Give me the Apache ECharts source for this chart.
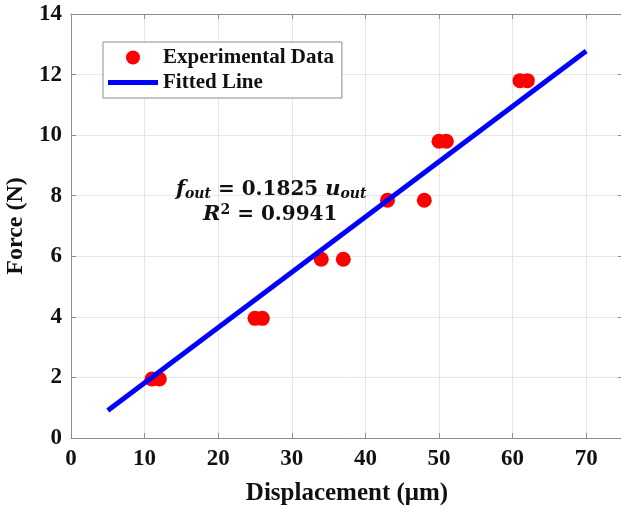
<!DOCTYPE html>
<html>
<head>
<meta charset="utf-8">
<script src="https://cdn.jsdelivr.net/npm/echarts@6/dist/echarts.min.js"></script>
<style>
  html, body { margin: 0; padding: 0; background: #fff; }
  #chart { width: 621px; height: 509px; }
</style>
</head>
<body>
<div id="chart"></div>
<script>
// measured points
const dispData = [11, 12, 25, 26, 34, 37, 43, 48, 50, 51, 61, 62]
const forceData = [1.95, 1.95, 3.95, 3.95, 5.9, 5.9, 7.85, 7.85, 9.8, 9.8, 11.8, 11.8]

// fitted line end points (f = 0.1825 u)
const fitX = [5, 70]
const fitY = [0.91, 12.78]

const xTicks = [0, 10, 20, 30, 40, 50, 60, 70]
const yTicks = [0, 2, 4, 6, 8, 10, 12, 14]

const font = 'Liberation Serif'
const axisGray = '#8c8c8c'

const scatterPts = dispData.map((x, i) => [x, forceData[i]])
const fitPts = fitX.map((x, i) => [x, fitY[i]])

let myChart = echarts.init(document.getElementById('chart'))

const baseX = {
  type: 'value', min: 0, max: 75, interval: 10,
  axisLine: { show: true, onZero: false, lineStyle: { color: axisGray, width: 1 } },
  axisTick: { show: true, inside: true, length: 5, lineStyle: { color: axisGray } },
  splitLine: { show: false }
}
const baseY = {
  type: 'value', min: 0, max: 14, interval: 2,
  axisLine: { show: true, onZero: false, lineStyle: { color: axisGray, width: 1 } },
  axisTick: { show: true, inside: true, length: 5, lineStyle: { color: axisGray } },
  splitLine: { show: false }
}

let option = {
  animation: false,
  backgroundColor: '#fff',
  grid: { left: 71, top: 14, right: -2, bottom: 71, outerBoundsMode: 'none', containLabel: false },
  legend: {
    orient: 'vertical',
    left: 103, top: 42,
    backgroundColor: '#fff',
    borderColor: '#8c8c8c', borderWidth: 1,
    padding: [5, 8, 5, 5],
    itemGap: 4,
    itemWidth: 50, itemHeight: 14,
    textStyle: { fontFamily: font, fontWeight: 'bold', fontSize: 21, color: '#111' },
    data: [
      { name: 'Experimental Data', icon: 'circle' },
      { name: 'Fitted Line', icon: 'path://M0,0 L50,0 L50,5 L0,5 Z' }
    ]
  },
  xAxis: [
    Object.assign({}, baseX, {
      position: 'bottom',
      name: 'Displacement (\u03bcm)', nameLocation: 'middle', nameGap: 43,
      nameTextStyle: { fontFamily: font, fontWeight: 'bold', fontSize: 25, color: '#111' },
      axisLabel: {
        fontFamily: font, fontWeight: 'bold', fontSize: 23, color: '#111', margin: 10,
        formatter: v => xTicks.includes(v) ? String(v) : ''
      },
      splitLine: { show: true, lineStyle: { color: '#e6e6e6', width: 1 } }
    }),
    Object.assign({}, baseX, { position: 'top', axisLabel: { show: false } })
  ],
  yAxis: [
    Object.assign({}, baseY, {
      position: 'left',
      name: 'Force (N)', nameLocation: 'middle', nameGap: 40,
      nameTextStyle: { fontFamily: font, fontWeight: 'bold', fontSize: 24, color: '#111' },
      axisLabel: {
        fontFamily: font, fontWeight: 'bold', fontSize: 23, color: '#111', margin: 9,
        formatter: v => yTicks.includes(v) ? String(v) : ''
      },
      splitLine: { show: true, lineStyle: { color: '#e6e6e6', width: 1 } }
    }),
    Object.assign({}, baseY, { position: 'right', axisLabel: { show: false } })
  ],
  graphic: [
    {
      type: 'text', left: 176, top: 179, z: 10,
      style: {
        text: '{i|f}{s|out}{n| = 0.1825 }{i|u}{s|out}',
        fill: '#111',
        rich: {
          i: { fontFamily: 'DejaVu Serif', fontStyle: 'italic', fontWeight: 'bold', fontSize: 21 },
          s: { fontFamily: 'DejaVu Serif', fontStyle: 'italic', fontWeight: 'bold', fontSize: 14, verticalAlign: 'bottom', padding: [10, 0, 0, 0] },
          n: { fontFamily: 'DejaVu Serif', fontWeight: 'bold', fontSize: 20 }
        }
      }
    },
    {
      type: 'text', left: 203, top: 203, z: 10,
      style: {
        text: '{i|R}{p|2}{n| = 0.9941}',
        fill: '#111',
        rich: {
          i: { fontFamily: 'DejaVu Serif', fontStyle: 'italic', fontWeight: 'bold', fontSize: 21 },
          p: { fontFamily: 'DejaVu Serif', fontWeight: 'bold', fontSize: 14, verticalAlign: 'top', padding: [0, 0, 10, 0] },
          n: { fontFamily: 'DejaVu Serif', fontWeight: 'bold', fontSize: 20 }
        }
      }
    }
  ],
  series: [
    {
      name: 'Experimental Data',
      type: 'scatter',
      data: scatterPts,
      symbol: 'circle',
      symbolSize: 15,
      itemStyle: { color: '#ff0000', opacity: 1 },
      z: 3
    },
    {
      name: 'Fitted Line',
      type: 'line',
      data: fitPts,
      showSymbol: false,
      lineStyle: { color: '#0000ff', width: 5 },
      itemStyle: { color: '#0000ff' },
      z: 4
    }
  ]
}

myChart.setOption(option)
</script>
</body>
</html>
